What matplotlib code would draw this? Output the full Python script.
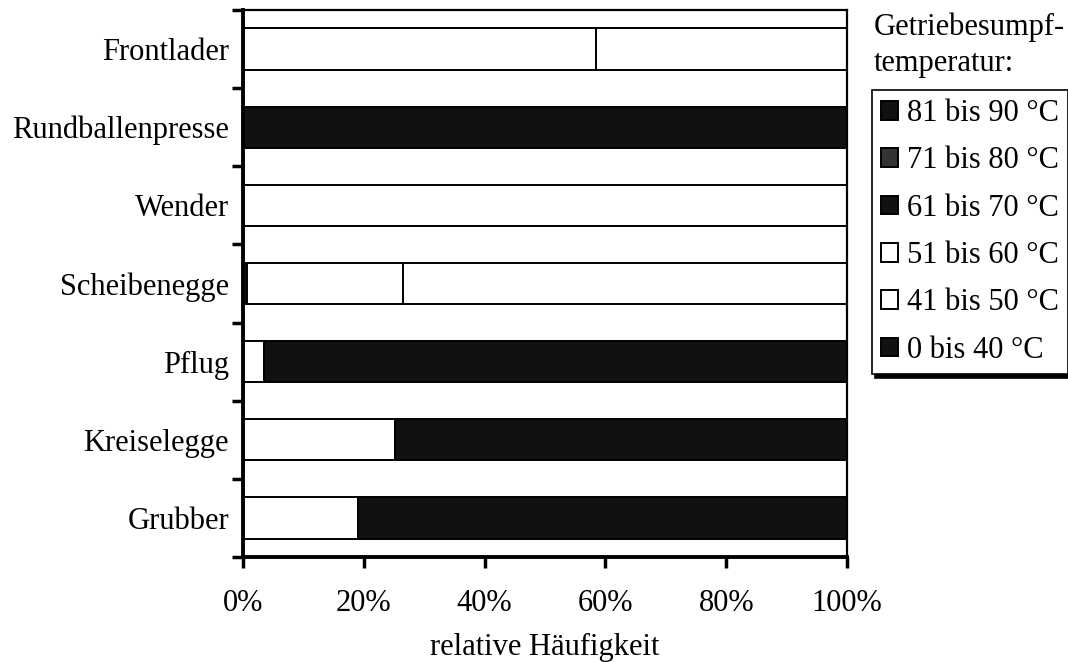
import numpy as np
import matplotlib.pyplot as plt

plt.rcParams['font.family'] = ['Liberation Serif', 'DejaVu Serif']
plt.rcParams['font.size'] = 22

# Geraete von unten nach oben
geraete = ['Grubber', 'Kreiselegge', 'Pflug', 'Scheibenegge',
           'Wender', 'Rundballenpresse', 'Frontlader']

# Anteile je Temperaturklasse in %
t_0_40 = [0, 0, 0, 0.7, 0, 0, 0]
t_41_50 = [0, 0, 0, 25.8, 0, 0, 58.4]
t_51_60 = [19.1, 25.1, 3.5, 73.5, 100, 0, 41.6]
t_61_70 = [80.9, 74.9, 96.5, 0, 0, 100, 0]
t_71_80 = [0, 0, 0, 0, 0, 0, 0]
t_81_90 = [0, 0, 0, 0, 0, 0, 0]

klassen = ['0 bis 40 °C', '41 bis 50 °C', '51 bis 60 °C',
           '61 bis 70 °C', '71 bis 80 °C', '81 bis 90 °C']
farben = ['#111111', 'white', 'white', '#111111', '#333333', '#111111']

fig = plt.figure(figsize=(10.68, 6.62), dpi=100)
ax = fig.add_axes([243 / 1068, 1 - 557 / 662, (847 - 243) / 1068, (557 - 10) / 662])

y = np.arange(len(geraete))
links = np.zeros(len(geraete))
balken = []
for werte, farbe, name in zip([t_0_40, t_41_50, t_51_60, t_61_70, t_71_80, t_81_90],
                              farben, klassen):
    b = ax.barh(y, werte, left=links, height=0.53, color=farbe,
                edgecolor='black', linewidth=1.4, label=name)
    balken.append(b)
    links += np.array(werte)

ax.set_xlim(0, 100)
ax.set_ylim(-0.5, len(geraete) - 0.5)

ax.set_xticks([0, 20, 40, 60, 80, 100])
ax.set_xticklabels(['0%', '20%', '40%', '60%', '80%', '100%'])
ax.tick_params(axis='x', direction='out', length=8, width=2.5, pad=15)

# Striche zwischen den Kategorien, Beschriftung in der Mitte
ax.set_yticks(np.arange(-0.5, len(geraete), 1.0))
ax.set_yticklabels([])
ax.set_yticks(y, minor=True)
ax.set_yticklabels(geraete, minor=True)
ax.tick_params(axis='y', which='major', direction='out', length=8, width=2.5)
ax.tick_params(axis='y', which='minor', length=0, pad=10)

for s in ['left', 'bottom']:
    ax.spines[s].set_linewidth(2.8)
for s in ['top', 'right']:
    ax.spines[s].set_linewidth(1.6)

ax.set_xlabel('relative Häufigkeit', labelpad=11)

fig.text(874 / 1068, 1 - 27 / 662, 'Getriebesumpf-', ha='left', va='center')
fig.text(874 / 1068, 1 - 64 / 662, 'temperatur:', ha='left', va='center')

leg = fig.legend(handles=balken[::-1], labels=klassen[::-1],
                 loc='upper left', bbox_to_anchor=(872 / 1068, 1 - 90 / 662),
                 frameon=True, fancybox=False, edgecolor='black',
                 shadow={'ox': 2, 'oy': -3, 'color': 'black', 'alpha': 1},
                 handlelength=0.55, handleheight=0.55, handletextpad=0.3,
                 labelspacing=0.6, borderpad=0.3, borderaxespad=0)
leg.get_frame().set_linewidth(1.2)

fig.savefig('out.png', dpi=100)
